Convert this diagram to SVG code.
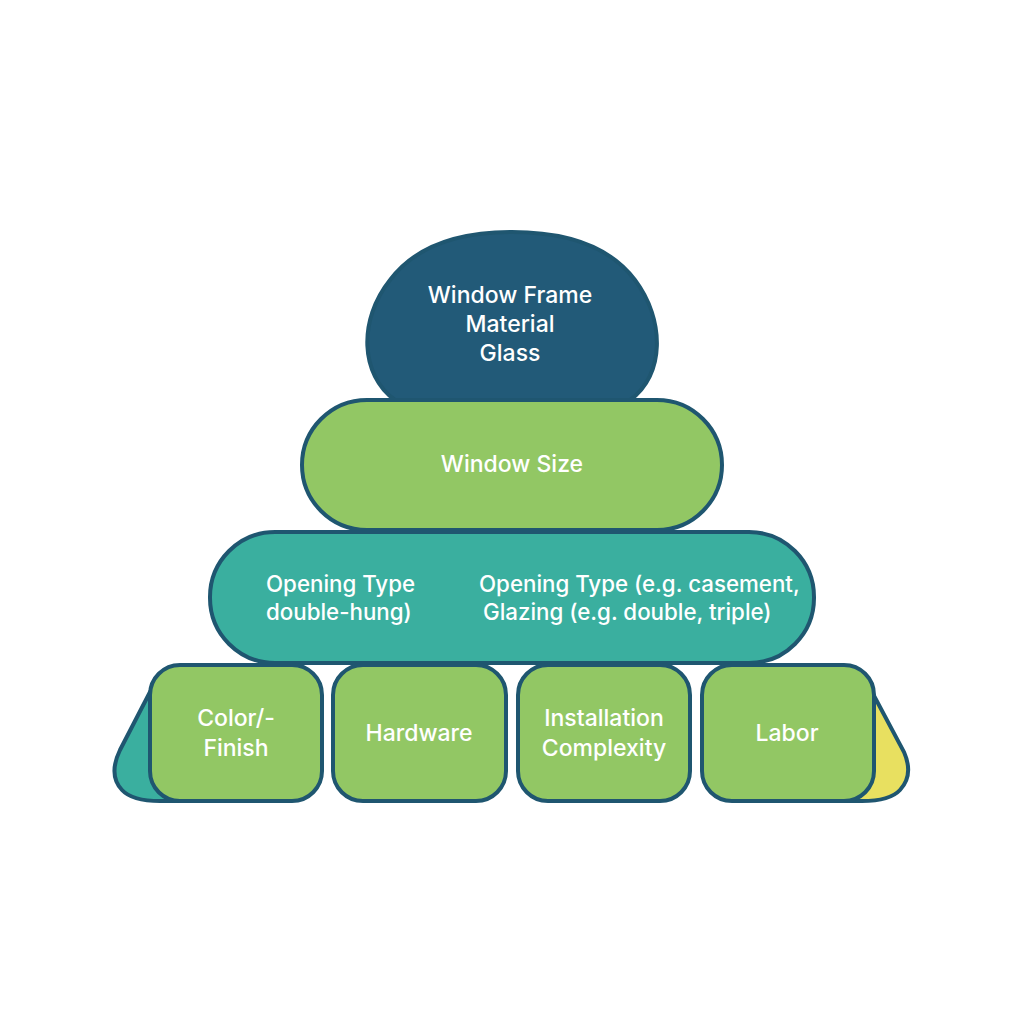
<svg xmlns="http://www.w3.org/2000/svg" width="1024" height="1024" viewBox="0 0 1024 1024">
<style>
.st{stroke:#1f5670;stroke-width:4}
.dk{fill:#225a78}
.gr{fill:#92c764}
.tl{fill:#3aaf9f}
.yl{fill:#e8e060}
text{font-family:Inter,"Liberation Sans",Arial,sans-serif;font-size:23px;font-weight:500;fill:#ffffff;text-anchor:middle}
text.l{text-anchor:start;font-size:22.3px}
</style>
<rect width="1024" height="1024" fill="#ffffff"/>
<g id="connectors"></g>
<g id="back-left">
<path class="st tl" d="M150,692 L120,750 Q108,775 122,790 Q132,801 160,801 L200,801 L200,692 Z"/>
</g>
<g id="back-right">
<path class="st yl" d="M872,692 L904,752 Q914,775 900,790 Q890,801 862,801 L830,801 L830,692 Z"/>
</g>
<g id="top">
<path class="st dk" d="M395,400 C360,375 358,320 390,280 C420,240 470,232 512,232 C555,232 605,240 635,280 C665,320 665,375 630,400 Z"/>
<text x="510" y="303">Window Frame</text>
<text x="510" y="332">Material</text>
<text x="510" y="361">Glass</text>
</g>
<g id="size">
<rect class="st gr" x="302" y="400" width="420" height="130" rx="65"/>
<text x="512" y="472">Window Size</text>
</g>
<g id="opening">
<rect class="st tl" x="210" y="532" width="604" height="131" rx="65"/>
<text class="l" x="266" y="592">Opening Type</text>
<text class="l" x="266" y="620">double-hung)</text>
<text class="l" x="479" y="592">Opening Type (e.g. casement,</text>
<text class="l" x="483" y="620">Glazing (e.g. double, triple)</text>
</g>
<g id="color">
<rect class="st gr" x="150" y="665" width="172" height="136" rx="30"/>
<text x="236" y="726">Color/-</text>
<text x="236" y="756">Finish</text>
</g>
<g id="hardware">
<rect class="st gr" x="333" y="665" width="173" height="136" rx="30"/>
<text x="419" y="741">Hardware</text>
</g>
<g id="installation">
<rect class="st gr" x="518" y="665" width="172" height="136" rx="30"/>
<text x="604" y="726">Installation</text>
<text x="604" y="756">Complexity</text>
</g>
<g id="labor">
<rect class="st gr" x="702" y="665" width="172" height="136" rx="30"/>
<text x="787" y="741">Labor</text>
</g>
</svg>
